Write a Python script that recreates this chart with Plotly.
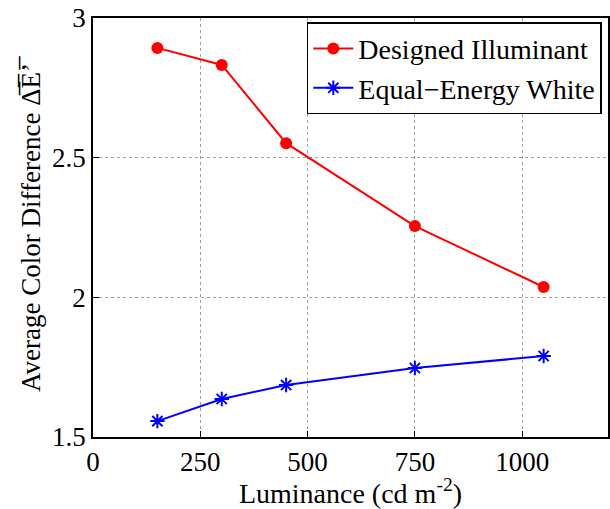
import plotly.graph_objects as go

luminance = [150, 300, 450, 750, 1050]
designed = [2.893, 2.832, 2.552, 2.255, 2.037]
equal_energy = [1.557, 1.636, 1.686, 1.747, 1.790]

x_ticks = [0, 250, 500, 750, 1000]
x_ticktext = ["0", "250", "500", "750", "1000"]
y_ticks = [1.5, 2, 2.5, 3]
y_ticktext = ["1.5", "2", "2.5", "3"]

FONT = "Liberation Serif"
FS = 27

fig = go.Figure()
fig.add_trace(go.Scatter(
    x=luminance, y=designed, mode="lines+markers", name="Designed Illuminant",
    line=dict(color="#ff0000", width=2),
    marker=dict(symbol="circle", size=12, color="#ff0000"),
))
fig.add_trace(go.Scatter(
    x=luminance, y=equal_energy, mode="lines+markers", name="Equal\u2212Energy White",
    line=dict(color="#0000ff", width=2),
    marker=dict(symbol="asterisk-open", size=12, color="#0000ff",
                line=dict(color="#0000ff", width=2)),
))

axis_common = dict(
    showline=True, linecolor="black", linewidth=1.5, mirror=True,
    ticks="inside", ticklen=6, tickcolor="black",
    showgrid=True, gridcolor="#a0a0a0", griddash="dot", gridwidth=1,
    zeroline=False, tickfont=dict(family=FONT, size=FS, color="black"),
)

fig.update_xaxes(range=[0, 1200], tickvals=x_ticks, ticktext=x_ticktext,
                 title=dict(text="Luminance (cd m<sup>-2</sup>)",
                            font=dict(family=FONT, size=28, color="black"), standoff=0),
                 **axis_common)
fig.update_yaxes(range=[1.5, 3], tickvals=y_ticks, ticktext=y_ticktext,
                 title=dict(text="Average Color Difference \u0394\u0305E\u0305\u2019\u0305",
                            font=dict(family=FONT, size=27, color="black"), standoff=4),
                 **axis_common)

fig.update_layout(
    width=610, height=509,
    margin=dict(l=93, r=0, t=18, b=72),
    paper_bgcolor="white", plot_bgcolor="white",
    showlegend=True,
    legend=dict(x=0.988, y=0.99, xanchor="right", yanchor="top",
                bgcolor="white", bordercolor="black", borderwidth=1.5,
                font=dict(family=FONT, size=28, color="black"),
                tracegroupgap=0, itemwidth=40),
)

fig.write_html("out.html")
